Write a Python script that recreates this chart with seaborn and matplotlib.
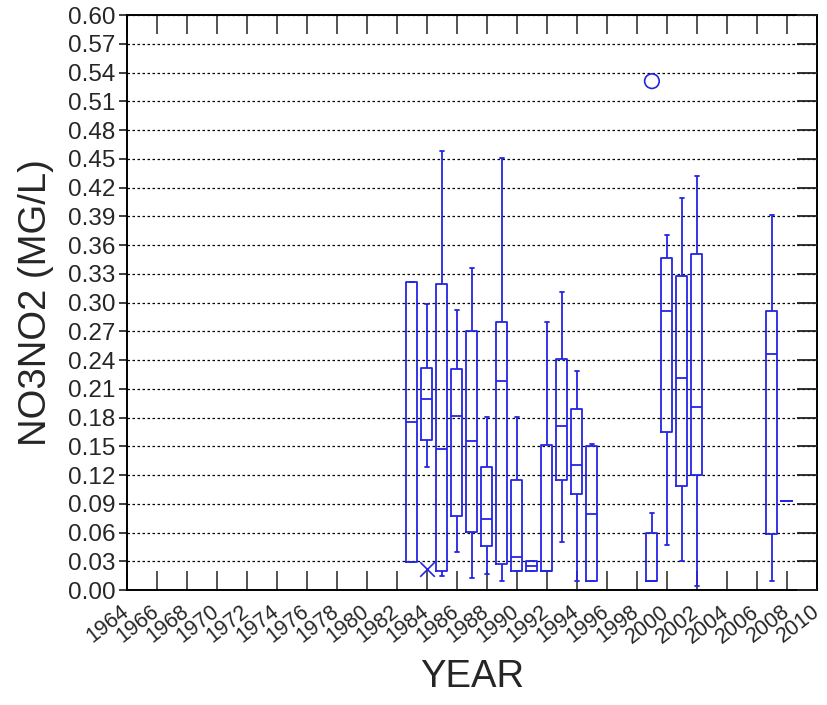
import matplotlib
matplotlib.use("Agg")
import matplotlib.pyplot as plt
import matplotlib.transforms as mtransforms
import seaborn as sns
import pandas as pd
import numpy as np

# ---- data ----
years        = [1983, 1984, 1985, 1986, 1987, 1988, 1989, 1990, 1991, 1992, 1993, 1994, 1995, 1999, 2000, 2001, 2002, 2007, 2008]
whisker_low  = [0.029, 0.128, 0.015, 0.040, 0.013, 0.017, 0.010, 0.020, 0.020, 0.020, 0.050, 0.010, 0.010, 0.010, 0.047, 0.030, 0.004, 0.010, 0.093]
q1           = [0.029, 0.157, 0.020, 0.077, 0.061, 0.046, 0.027, 0.020, 0.020, 0.020, 0.115, 0.100, 0.010, 0.010, 0.165, 0.109, 0.120, 0.058, 0.093]
median       = [0.175, 0.199, 0.147, 0.182, 0.156, 0.074, 0.218, 0.035, 0.025, 0.020, 0.171, 0.130, 0.079, 0.010, 0.291, 0.221, 0.191, 0.246, 0.093]
q3           = [0.321, 0.232, 0.319, 0.231, 0.270, 0.128, 0.280, 0.115, 0.030, 0.151, 0.241, 0.189, 0.150, 0.060, 0.346, 0.328, 0.351, 0.291, 0.093]
whisker_high = [0.321, 0.299, 0.458, 0.292, 0.336, 0.181, 0.451, 0.181, 0.030, 0.280, 0.311, 0.229, 0.152, 0.080, 0.371, 0.409, 0.432, 0.391, 0.093]

outlier_years   = [1984, 1999]
outlier_values  = [0.022, 0.531]
outlier_markers = ["x", "o"]

x_tick_years = list(range(1964, 2011, 2))
y_ticks = [round(0.03 * i, 2) for i in range(21)]

# ---- build long table from the five-number summaries ----
rows = []
for i, yr in enumerate(years):
    for v in (whisker_low[i], q1[i], median[i], q3[i], whisker_high[i]):
        rows.append({"YEAR": yr, "VALUE": v})
df = pd.DataFrame(rows)

sns.set_theme(style="white")
plt.rcParams["font.family"] = ["Liberation Sans", "DejaVu Sans"]

BLUE = "#2424e6"

fig = plt.figure(figsize=(8.28, 7.05), dpi=100)
ax = fig.add_axes([0.153, 0.163, 0.8337, 0.8157])

sns.boxplot(data=df, x="YEAR", y="VALUE", native_scale=True, whis=(0, 100),
            fill=False, color=BLUE, linecolor=BLUE, width=0.73, linewidth=1.3,
            capwidths=0.25, ax=ax)

for yr, v, m in zip(outlier_years, outlier_values, outlier_markers):
    if m == "o":
        ax.scatter([yr], [v], s=110, marker="o", facecolors="none", edgecolors=BLUE, linewidths=1.2, zorder=5)
    else:
        ax.scatter([yr], [v], s=110, marker="x", color=BLUE, linewidths=1.2, zorder=5)

ax.set_xlim(1964, 2010)
ax.set_ylim(0, 0.60)
ax.set_yticks(y_ticks)
ax.set_yticklabels([f"{t:.2f}" for t in y_ticks], fontsize=17.5)
ax.set_xticks(x_tick_years)
ax.set_xticklabels([str(t) for t in x_tick_years], fontsize=15.5, rotation=38,
                   ha="right", va="center", rotation_mode="anchor")
shift = mtransforms.ScaledTranslation(4 / 100, 0, fig.dpi_scale_trans)
for lab in ax.get_xticklabels():
    lab.set_transform(lab.get_transform() + shift)

ax.grid(axis="y", color="black", linestyle=(0, (2, 2)), linewidth=0.9)
ax.grid(axis="x", visible=False)
ax.set_axisbelow(True)

for s in ax.spines.values():
    s.set_color("black")
    s.set_linewidth(1.4)

ax.tick_params(axis="x", which="major", direction="in", length=14, width=1.3,
               color="#444444", top=True, bottom=True, pad=14)
ax.tick_params(axis="y", which="major", left=False, right=False, pad=2)

ax2 = ax.twinx()
ax2.set_ylim(0, 0.60)
ax2.set_yticks(y_ticks)
ax2.tick_params(axis="y", direction="in", length=14.5, width=1.3, color="#222222",
                labelright=False, right=True)
ax2.grid(False)
for s in ax2.spines.values():
    s.set_visible(False)

ax.set_xlabel("YEAR", fontsize=27.5)
ax.set_ylabel("NO3NO2 (MG/L)", fontsize=27.5)
ax.xaxis.set_label_coords(0.5, -0.12)
ax.yaxis.set_label_coords(-0.105, 0.5)

fig.savefig("out.png", dpi=100)
